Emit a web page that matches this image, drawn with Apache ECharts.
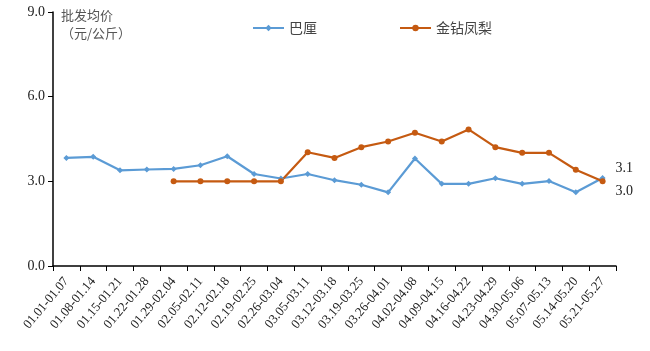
<!DOCTYPE html>
<html><head><meta charset="utf-8">
<script src="https://cdn.jsdelivr.net/npm/echarts@6/dist/echarts.min.js"></script>
<style>html,body{margin:0;padding:0;background:#fff}#c{width:650px;height:351px}</style>
</head><body><div id="c"></div>
<script>
const categories = ['01.01-01.07','01.08-01.14','01.15-01.21','01.22-01.28','01.29-02.04','02.05-02.11','02.12-02.18','02.19-02.25','02.26-03.04','03.05-03.11','03.12-03.18','03.19-03.25','03.26-04.01','04.02-04.08','04.09-04.15','04.16-04.22','04.23-04.29','04.30-05.06','05.07-05.13','05.14-05.20','05.21-05.27'];
const bali = [3.83,3.87,3.39,3.42,3.44,3.57,3.89,3.26,3.10,3.26,3.04,2.88,2.61,3.81,2.91,2.91,3.11,2.91,3.01,2.61,3.12];
const jinzuan = [null,null,null,null,3.0,3.0,3.0,3.0,3.0,4.03,3.83,4.21,4.41,4.72,4.41,4.84,4.21,4.01,4.01,3.41,3.0];
const yTicks = [0,3,6,9];
const serif = '"Liberation Serif","Times New Roman",serif';
const cjk = '"Noto Sans CJK SC",sans-serif';
function endLabel(offset){
  return {show:true, position:'right', distance:10, offset:offset, color:'#222', fontFamily:serif, fontSize:14,
    formatter:p => p.dataIndex === categories.length-1 ? p.value.toFixed(1) : ''};
}
const chart = echarts.init(document.getElementById('c'), null, {renderer:'canvas'});
chart.setOption({
  animation:false,
  grid:{left:53, right:34, top:12, bottom:85},
  legend:{top:16, left:247, itemGap:82, itemWidth:31, itemHeight:8,
    textStyle:{fontFamily:cjk, fontSize:14, color:'#444'},
    data:['巴厘','金钻凤梨']},
  xAxis:{type:'category', data:categories, boundaryGap:true,
    axisLine:{lineStyle:{color:'#000', width:1.5}},
    axisTick:{show:true, length:5, lineStyle:{color:'#000'}},
    axisLabel:{rotate:50, interval:0, fontFamily:serif, fontSize:13, color:'#222', margin:13}},
  yAxis:{type:'value', min:0, max:9, interval:3,
    name:'批发均价\n（元/公斤）', nameLocation:'end', nameGap:-30,
    nameTextStyle:{fontFamily:cjk, fontSize:13, color:'#555', align:'left', padding:[0,0,0,8], lineHeight:18},
    splitLine:{show:false},
    axisLine:{show:true, lineStyle:{color:'#000', width:1.5}},
    axisTick:{show:true, length:5, inside:false, lineStyle:{color:'#000'}},
    axisLabel:{fontFamily:serif, fontSize:14, color:'#222', formatter:v=>v.toFixed(1), margin:8}},
  series:[
    {name:'巴厘', type:'line', data:bali, color:'#5B9BD5', symbol:'diamond', symbolSize:6,
      lineStyle:{width:2.2, color:'#5B9BD5'}, itemStyle:{color:'#5B9BD5'}, label:endLabel([0,-10])},
    {name:'金钻凤梨', type:'line', data:jinzuan, color:'#C55A11', symbol:'circle', symbolSize:6,
      lineStyle:{width:2.2, color:'#C55A11'}, itemStyle:{color:'#C55A11'}, label:endLabel([0,10])}
  ]
});
</script></body></html>
